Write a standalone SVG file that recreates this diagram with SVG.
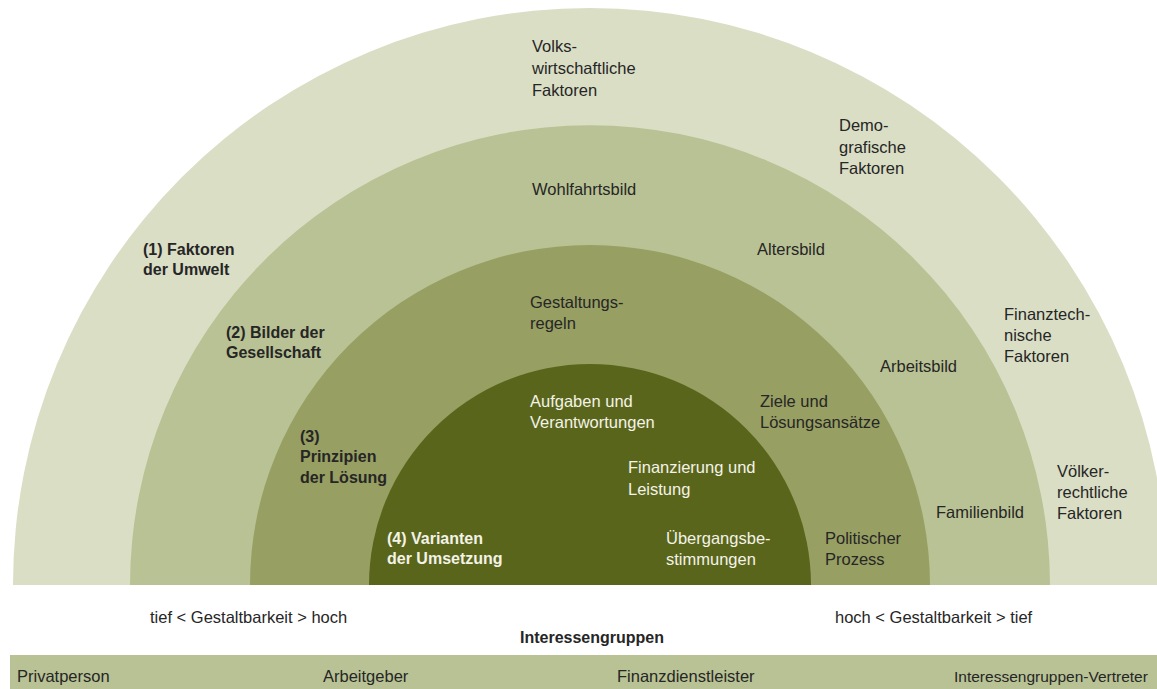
<svg xmlns="http://www.w3.org/2000/svg" width="1157" height="689" viewBox="0 0 1157 689">
  <style>
    text { font-family: "Liberation Sans", Arial, sans-serif; font-size: 16.5px; fill: #262626; }
    .b { font-weight: bold; font-size: 16px; }
    .w { fill: #f3f3e6; }
    .s { font-size: 15.5px; }
    .r1 { fill: #dadec5; }
    .r2 { fill: #b9c294; }
    .r3 { fill: #979f62; }
    .r4 { fill: #5a651c; }
    .bar { fill: #b8c294; }
  </style>
  <rect width="1157" height="689" fill="#ffffff"/>

  <!-- (1) environment factors: outermost half-ring -->
  <g id="ring-umwelt">
    <path class="r1" d="M13,585 A577,577 0 0 1 1167,585 Z"/>
    <text x="532" y="52">Volks-</text>
    <text x="532" y="74">wirtschaftliche</text>
    <text x="532" y="96">Faktoren</text>
    <text x="839" y="131">Demo-</text>
    <text x="839" y="153">grafische</text>
    <text x="839" y="174">Faktoren</text>
    <text x="1004" y="320">Finanztech-</text>
    <text x="1004" y="341">nische</text>
    <text x="1004" y="362">Faktoren</text>
    <text x="1057" y="477">Völker-</text>
    <text x="1057" y="498">rechtliche</text>
    <text x="1057" y="519">Faktoren</text>
    <text class="b" x="143" y="255">(1) Faktoren</text>
    <text class="b" x="143" y="275">der Umwelt</text>
  </g>

  <!-- (2) images of society -->
  <g id="ring-gesellschaft">
    <path class="r2" d="M130,585 A460,460 0 0 1 1050,585 Z"/>
    <text x="532" y="195">Wohlfahrtsbild</text>
    <text x="757" y="255">Altersbild</text>
    <text x="880" y="372">Arbeitsbild</text>
    <text x="936" y="518">Familienbild</text>
    <text class="b" x="226" y="338">(2) Bilder der</text>
    <text class="b" x="226" y="358">Gesellschaft</text>
  </g>

  <!-- (3) principles of the solution -->
  <g id="ring-prinzipien">
    <path class="r3" d="M250,585 A340,340 0 0 1 930,585 Z"/>
    <text x="530" y="308">Gestaltungs-</text>
    <text x="530" y="329">regeln</text>
    <text x="760" y="407">Ziele und</text>
    <text x="760" y="428">Lösungsansätze</text>
    <text x="825" y="544">Politischer</text>
    <text x="825" y="565">Prozess</text>
    <text class="b" x="300" y="442">(3)</text>
    <text class="b" x="300" y="462">Prinzipien</text>
    <text class="b" x="300" y="483">der Lösung</text>
  </g>

  <!-- (4) implementation variants: inner core -->
  <g id="ring-umsetzung">
    <path class="r4" d="M369,585 A221,221 0 0 1 811,585 Z"/>
    <text class="w" x="530" y="407">Aufgaben und</text>
    <text class="w" x="530" y="428">Verantwortungen</text>
    <text class="w" x="628" y="473">Finanzierung und</text>
    <text class="w" x="628" y="495">Leistung</text>
    <text class="w" x="666" y="544">Übergangsbe-</text>
    <text class="w" x="666" y="565">stimmungen</text>
    <text class="b w" x="387" y="544">(4) Varianten</text>
    <text class="b w" x="387" y="564">der Umsetzung</text>
  </g>

  <!-- scale captions -->
  <g id="scale">
    <text x="150" y="623">tief &lt; Gestaltbarkeit &gt; hoch</text>
    <text x="835" y="623">hoch &lt; Gestaltbarkeit &gt; tief</text>
    <text class="b" x="592" y="643" text-anchor="middle">Interessengruppen</text>
  </g>

  <!-- stakeholder bar -->
  <g id="interessengruppen">
    <rect class="bar" x="10" y="655" width="1147" height="34"/>
    <text x="17" y="682">Privatperson</text>
    <text x="323" y="682">Arbeitgeber</text>
    <text x="617" y="682">Finanzdienstleister</text>
    <text class="s" x="954" y="682">Interessengruppen-Vertreter</text>
  </g>

  <!-- no connectors in this figure -->
  <g id="connectors"/>
</svg>
